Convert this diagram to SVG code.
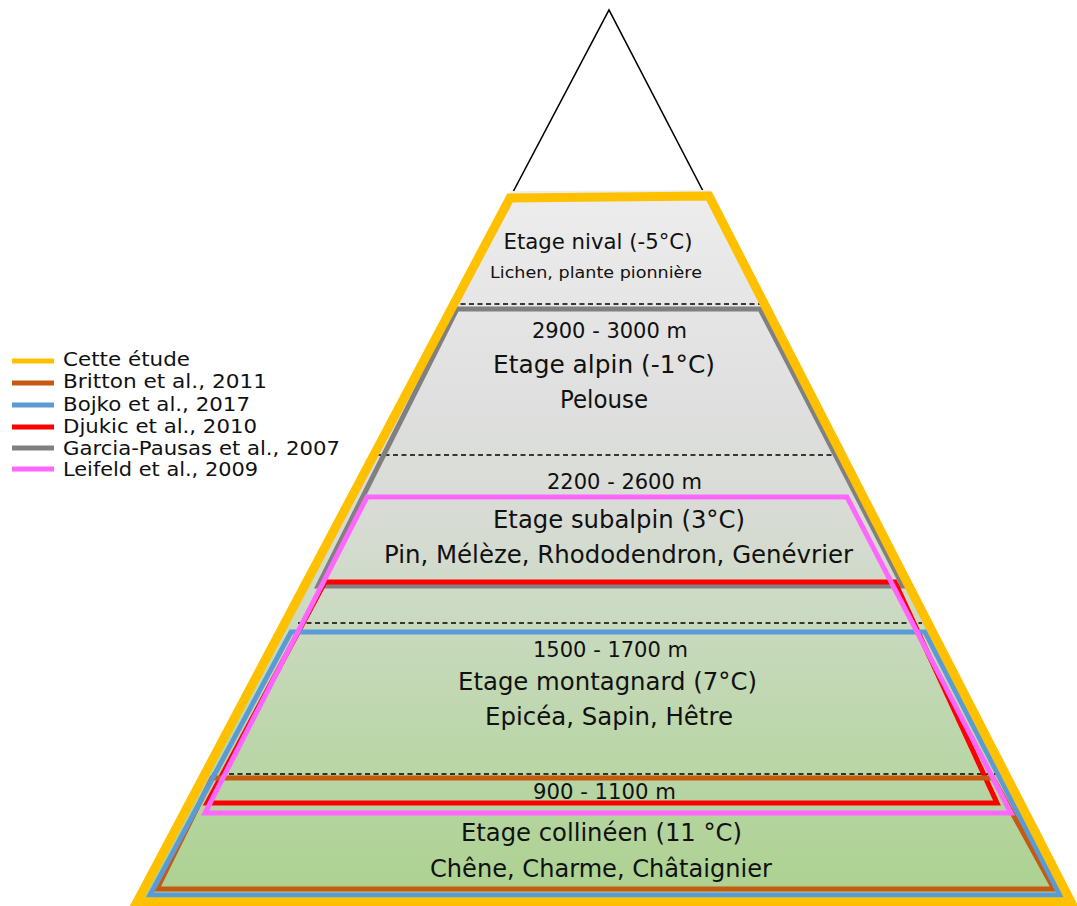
<svg xmlns="http://www.w3.org/2000/svg" width="1077" height="906" viewBox="0 0 1077 906">
<defs>
<linearGradient id="fillGrad" gradientUnits="userSpaceOnUse" x1="0" y1="191" x2="0" y2="903">
<stop offset="0" stop-color="#ededed"/>
<stop offset="0.3" stop-color="#dfdfdf"/>
<stop offset="0.48" stop-color="#d6dbd2"/>
<stop offset="0.65" stop-color="#c5d9b9"/>
<stop offset="1" stop-color="#abd18f"/>
</linearGradient>
</defs>
<style>
text{font-family:"DejaVu Sans","Liberation Sans",sans-serif;fill:#111}
.c{text-anchor:middle}
.dash{stroke:#000;stroke-width:1.5;stroke-dasharray:5 3.5;fill:none}
.ol{fill:none;stroke-width:5;stroke-linejoin:miter}
.yel{stroke:#ffc000}
.brn{stroke:#c55a11}
.blu{stroke:#5b9bd5}
.red{stroke:#ff0000}
.gry{stroke:#808080}
.pnk{stroke:#ff66ff}
.leg{stroke-width:5}
</style>
<rect width="1077" height="906" fill="#fff"/>
<g id="peak">
<polyline points="513,192 609,10 703,191" fill="none" stroke="#000" stroke-width="1.6"/>
</g>
<g id="pyramid">
<polygon points="511,191 710,190 1074,905 134,905" fill="url(#fillGrad)"/>
<line class="dash" x1="452" y1="304" x2="762" y2="304"/>
<line class="dash" x1="376" y1="455" x2="835" y2="455"/>
<line class="dash" x1="298" y1="623" x2="922" y2="623"/>
<line class="dash" x1="212" y1="774" x2="1000" y2="774"/>
</g>
<g id="connectors">
<polygon class="ol gry" points="457,309 760,309 903,586 318,586"/>
<polygon class="ol red" points="325,582 895,582 997,803 207,803"/>
<polygon class="ol brn" points="212,778 993,778 1054,889 157,889"/>
<polygon class="ol blu" points="291,632 925,632 1060,895 150,895"/>
<polygon class="ol pnk" points="367,497 847,497 1011,813 205,813"/>
<polygon class="ol yel" style="stroke-width:9" points="510,198 709,196 1071,902 137,902"/>
</g>
<g id="nival">
<text class="c" x="598" y="249" font-size="20.5" textLength="189" lengthAdjust="spacingAndGlyphs">Etage nival (-5°C)</text>
<text class="c" x="596" y="278" font-size="16" textLength="212" lengthAdjust="spacingAndGlyphs">Lichen, plante pionnière</text>
</g>
<g id="alpin">
<text class="c" x="609.5" y="338" font-size="20.5" textLength="155" lengthAdjust="spacingAndGlyphs">2900 - 3000 m</text>
<text class="c" x="604" y="373" font-size="24.5" textLength="222" lengthAdjust="spacingAndGlyphs">Etage alpin (-1°C)</text>
<text class="c" x="604" y="408" font-size="24.5" textLength="88" lengthAdjust="spacingAndGlyphs">Pelouse</text>
</g>
<g id="subalpin">
<text class="c" x="624.5" y="489" font-size="20.5" textLength="155" lengthAdjust="spacingAndGlyphs">2200 - 2600 m</text>
<text class="c" x="619" y="528" font-size="24.5" textLength="252" lengthAdjust="spacingAndGlyphs">Etage subalpin (3°C)</text>
<text class="c" x="618.5" y="563" font-size="24.5" textLength="469" lengthAdjust="spacingAndGlyphs">Pin, Mélèze, Rhododendron, Genévrier</text>
</g>
<g id="montagnard">
<text class="c" x="610.5" y="657" font-size="20.5" textLength="155" lengthAdjust="spacingAndGlyphs">1500 - 1700 m</text>
<text class="c" x="607.5" y="690" font-size="24.5" textLength="299" lengthAdjust="spacingAndGlyphs">Etage montagnard (7°C)</text>
<text class="c" x="609" y="725" font-size="24.5" textLength="248" lengthAdjust="spacingAndGlyphs">Epicéa, Sapin, Hêtre</text>
</g>
<g id="collineen">
<text class="c" x="604.5" y="799" font-size="20.5" textLength="143" lengthAdjust="spacingAndGlyphs">900 - 1100 m</text>
<text class="c" x="601.5" y="841" font-size="24.5" textLength="281" lengthAdjust="spacingAndGlyphs">Etage collinéen (11 °C)</text>
<text class="c" x="601" y="877" font-size="24.5" textLength="342" lengthAdjust="spacingAndGlyphs">Chêne, Charme, Châtaignier</text>
</g>
<g id="legend">
<line class="leg yel" x1="12" y1="361" x2="54" y2="361"/>
<line class="leg brn" x1="12" y1="383" x2="54" y2="383"/>
<line class="leg blu" x1="12" y1="405" x2="54" y2="405"/>
<line class="leg red" x1="12" y1="427" x2="54" y2="427"/>
<line class="leg gry" x1="12" y1="448" x2="54" y2="448"/>
<line class="leg pnk" x1="12" y1="469" x2="54" y2="469"/>
<text x="63" y="366" font-size="19" textLength="127" lengthAdjust="spacingAndGlyphs">Cette étude</text>
<text x="63" y="388" font-size="19" textLength="204" lengthAdjust="spacingAndGlyphs">Britton et al., 2011</text>
<text x="63" y="411" font-size="19" textLength="187" lengthAdjust="spacingAndGlyphs">Bojko et al., 2017</text>
<text x="63" y="433" font-size="19" textLength="194" lengthAdjust="spacingAndGlyphs">Djukic et al., 2010</text>
<text x="63" y="455" font-size="19" textLength="277" lengthAdjust="spacingAndGlyphs">Garcia-Pausas et al., 2007</text>
<text x="63" y="476" font-size="19" textLength="195" lengthAdjust="spacingAndGlyphs">Leifeld et al., 2009</text>
</g>
</svg>
